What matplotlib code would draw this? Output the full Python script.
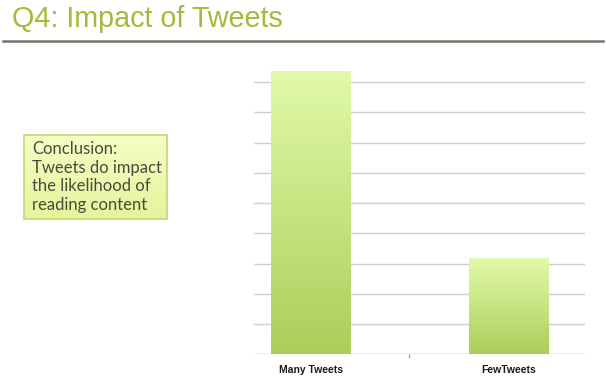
import matplotlib.pyplot as plt
import matplotlib.patches as patches
import numpy as np
from matplotlib.colors import LinearSegmentedColormap

categories = ['Many Tweets', 'FewTweets']
values = [9.38, 3.17]
grid_levels = [1, 2, 3, 4, 5, 6, 7, 8, 9]

title = 'Q4: Impact of Tweets'
note = 'Conclusion:\nTweets do impact\nthe likelihood of\nreading content'

W, H = 606, 382
fig = plt.figure(figsize=(W / 100, H / 100), dpi=100)
fig.patch.set_facecolor('white')

# -------------- title + rule --------------
fig.text(12 / W, 1 - 27 / H, title, fontsize=20.7, color='#a3bb3c',
         family='Liberation Sans', va='baseline', ha='left')
fig.add_artist(plt.Line2D([3 / W, 603 / W], [1 - 41 / H, 1 - 41 / H],
                          color='#7b7268', lw=1.8, transform=fig.transFigure))

# -------------- bar chart --------------
ax_l, ax_r, ax_b, ax_t = 254, 585, 354.3, 65
ax = fig.add_axes([ax_l / W, 1 - ax_b / H, (ax_r - ax_l) / W, (ax_b - ax_t) / H])
x = np.arange(len(categories))
ax.set_xlim(-0.286, 1.388)
ax.set_ylim(0, (ax_b - ax_t) / 30.25)
for g in grid_levels:
    ax.axhline(g, color='#cfcfcf', lw=1, zorder=0)
ax.axhline(0, color='#a8a8a8', lw=1, zorder=3)

cmap = LinearSegmentedColormap.from_list('bar', ['#acce5a', '#e1faa9'])
grad = np.linspace(0, 1, 256).reshape(-1, 1)
bars = ax.bar(x, values, width=0.40, color='none', edgecolor='none', zorder=2)
for b in bars:
    bx, bw, bh = b.get_x(), b.get_width(), b.get_height()
    im = ax.imshow(grad, cmap=cmap, origin='lower', aspect='auto',
                   extent=[bx, bx + bw, 0, bh], zorder=2)
    im.set_clip_path(b)

for s in ax.spines.values():
    s.set_visible(False)
ax.set_yticks([])
ax.set_xticks([0.5])
ax.set_xticklabels([''])
ax.tick_params(axis='x', length=3, color='#a8a8a8', width=1)
for xi, lab in zip(x, categories):
    ax.text(xi, -0.52, lab, ha='center', va='center', fontsize=7.5,
            fontweight='bold', family='Liberation Sans', color='#1a1a1a',
            clip_on=False)

# -------------- conclusion box --------------
bl, bt, br, bb = 24, 135, 167, 219
bax = fig.add_axes([bl / W, 1 - bb / H, (br - bl) / W, (bb - bt) / H])
bax.set_xlim(0, 1)
bax.set_ylim(0, 1)
bax.axis('off')
box_cmap = LinearSegmentedColormap.from_list('box', ['#e3f59c', '#f6fdc6'])
bax.imshow(np.linspace(0, 1, 128).reshape(-1, 1), cmap=box_cmap, origin='lower',
           aspect='auto', extent=[0, 1, 0, 1])
bax.add_patch(patches.Rectangle((0, 0), 1, 1, fill=False, ec='#c3d66e', lw=1.2,
                                transform=bax.transAxes, clip_on=False))
bax.text(0.055, 0.5, note, ha='left', va='center', fontsize=12,
         color='#4a4a3a', family='Lato', linespacing=1.2)

fig.savefig('out.png', dpi=100)
